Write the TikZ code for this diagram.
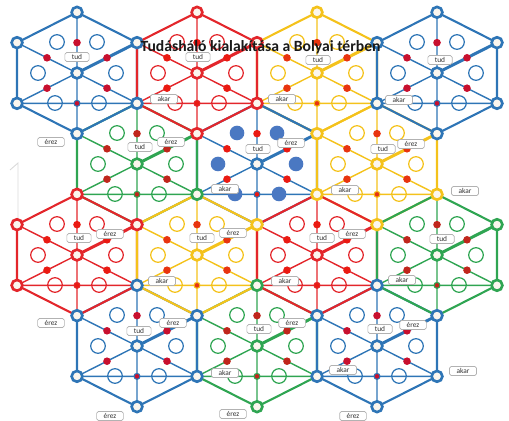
\documentclass[tikz,border=0pt]{standalone}
\usepackage{fontspec}
\setmainfont{Carlito}
\usetikzlibrary{positioning}
\definecolor{HexBlue}{HTML}{2E75B6}
\definecolor{HexRed}{HTML}{E3262B}
\definecolor{HexYellow}{HTML}{F4C21B}
\definecolor{HexGreen}{HTML}{2FA552}
\definecolor{DotRed}{HTML}{EA1A12}
\definecolor{DotCrimson}{HTML}{C8102E}
\definecolor{DotOrange}{HTML}{E8340F}
\definecolor{DotDark}{HTML}{C0261C}
\definecolor{FillBlue}{HTML}{4A78C2}
\definecolor{RingFill}{HTML}{FBF6EE}

\tikzset{
  hexline/.style={line width=1.2pt, line join=round},
  spokeline/.style={line width=0.8pt},
  thickspoke/.style={line width=1.7pt},
  hollow/.style={line width=0.7pt},
  vring/.style={line width=1.5pt, fill=RingFill},
  lbl/.style={draw=black!30, fill=white, rounded corners=1pt, inner xsep=4pt,
    inner ysep=0.5pt, minimum height=5.2pt, text=black!80,
    font=\fontsize{4.2}{4.6}\selectfont}
}

% one cell: centre x, centre y, line colour, dot colour, style of the six circles
\newcommand{\hexcell}[5]{%
  \begin{scope}[shift={(#1,#2)}]
    \draw[hexline,#3] (0,-60.7) -- (60,-30.35) -- (60,30.35) -- (0,60.7)
      -- (-60,30.35) -- (-60,-30.35) -- cycle;
    \draw[spokeline,#3] (0,-60.7) -- (0,60.7) (-60,-30.35) -- (0,0) -- (60,30.35)
      (-60,30.35) -- (0,0) (-60,30.35) -- (60,30.35);
    \draw[thickspoke,#3] (0,0) -- (60,-30.35);
    \foreach \hx/\hy in {-20/-31,20/-31,-39/0,39/0,-22/30,22/30}
      \path[#5] (\hx,\hy) circle (7.3);
    \foreach \dx/\dy in {0/-30.35,-30/-15.2,30/-15.2,-30/15.2,30/15.2}
      \fill[#4] (\dx,\dy) circle (3.8);
    \filldraw[#3, fill=#4, line width=0.6pt] (0,30.35) circle (3);
    \draw[#3,vring] (0,0) circle (5.4);
  \end{scope}}

\begin{document}
\begin{tikzpicture}[x=0.02cm,y=-0.02cm]
    \useasboundingbox (0,0) rectangle (509,421);

    % faint mark on the left
    \draw[black!15, line width=0.5pt] (10,170) -- (18,163) -- (18,222);

    % Row 2
    \hexcell{257}{164}{HexBlue}{DotRed}{fill=FillBlue}
    \hexcell{137}{164}{HexGreen}{DotDark}{draw=HexGreen,hollow}
    \hexcell{377}{164}{HexYellow}{DotOrange}{draw=HexYellow,hollow}

    % Row 4
    \hexcell{257}{346}{HexGreen}{DotDark}{draw=HexGreen,hollow}
    \hexcell{137}{346}{HexBlue}{DotCrimson}{draw=HexBlue,hollow}
    \hexcell{377}{346}{HexBlue}{DotCrimson}{draw=HexBlue,hollow}

    % Row 3
    \hexcell{77}{255}{HexRed}{DotRed}{draw=HexRed,hollow}
    \hexcell{197}{255}{HexYellow}{DotOrange}{draw=HexYellow,hollow}
    \hexcell{317}{255}{HexRed}{DotRed}{draw=HexRed,hollow}
    \hexcell{437}{255}{HexGreen}{DotDark}{draw=HexGreen,hollow}

    % Row 1
    \hexcell{317}{73}{HexYellow}{DotOrange}{draw=HexYellow,hollow}
    \hexcell{77}{73}{HexBlue}{DotCrimson}{draw=HexBlue,hollow}
    \hexcell{197}{73}{HexRed}{DotRed}{draw=HexRed,hollow}
    \hexcell{437}{73}{HexBlue}{DotCrimson}{draw=HexBlue,hollow}
    \draw[hexline,HexBlue] (257,103.35) -- (317,133.65);

    % Corner rings
    \foreach \x/\y/\c in {77/12.3/HexBlue, 197/12.3/HexRed, 317/12.3/HexYellow, 437/12.3/HexBlue,
        17/42.65/HexBlue, 137/42.65/HexBlue, 257/42.65/HexRed, 377/42.65/HexBlue, 497/42.65/HexBlue,
        17/103.35/HexBlue, 137/103.35/HexBlue, 257/103.35/HexRed, 377/103.35/HexBlue, 497/103.35/HexBlue,
        77/133.65/HexBlue, 197/133.65/HexRed, 317/133.65/HexYellow, 437/133.65/HexBlue,
        77/194.35/HexRed, 197/194.35/HexGreen, 317/194.35/HexYellow, 437/194.35/HexYellow,
        17/224.65/HexRed, 137/224.65/HexRed, 257/224.65/HexYellow, 377/224.65/HexYellow, 497/224.65/HexGreen,
        17/285.35/HexRed, 137/285.35/HexBlue, 257/285.35/HexGreen, 377/285.35/HexBlue, 497/285.35/HexGreen,
        77/315.65/HexBlue, 197/315.65/HexBlue, 317/315.65/HexBlue, 437/315.65/HexBlue,
        77/376.35/HexBlue, 197/376.35/HexBlue, 317/376.35/HexBlue, 437/376.35/HexBlue,
        137/406.7/HexBlue, 257/406.7/HexGreen, 377/406.7/HexBlue}
      \draw[\c,vring] (\x,\y) circle (5.4);

    % Labels
    \foreach \x/\y [count=\i] in {77/57, 198/57, 318/60, 440/60, 140/147, 258/149, 383/149,
        79/238, 202/238, 322/238, 442/239, 139/331, 259/329, 380/329}
      \node[lbl] (tud\i) at (\x,\y) {tud};
    \foreach \x/\y [count=\i] in {164/99, 282/99, 399/100, 225/189, 345/190, 465/191,
        162/281, 285/281, 402/280, 225/373, 343/370, 463/371}
      \node[lbl] (akar\i) at (\x,\y) {akar};
    \foreach \x/\y [count=\i] in {51/142, 171/142, 291/143, 411/144, 110/234, 233/233, 352/234,
        51/323, 173/323, 292/323, 413/325, 110/416, 233/414, 353/416}
      \node[lbl] (erez\i) at (\x,\y) {érez};

    % Title
    \node[font=\fontsize{8.9}{10}\selectfont\bfseries, text=black!90] (title) at (260.5,47)
      {Tudásháló kialakítása a Bolyai térben};
\end{tikzpicture}
\end{document}
